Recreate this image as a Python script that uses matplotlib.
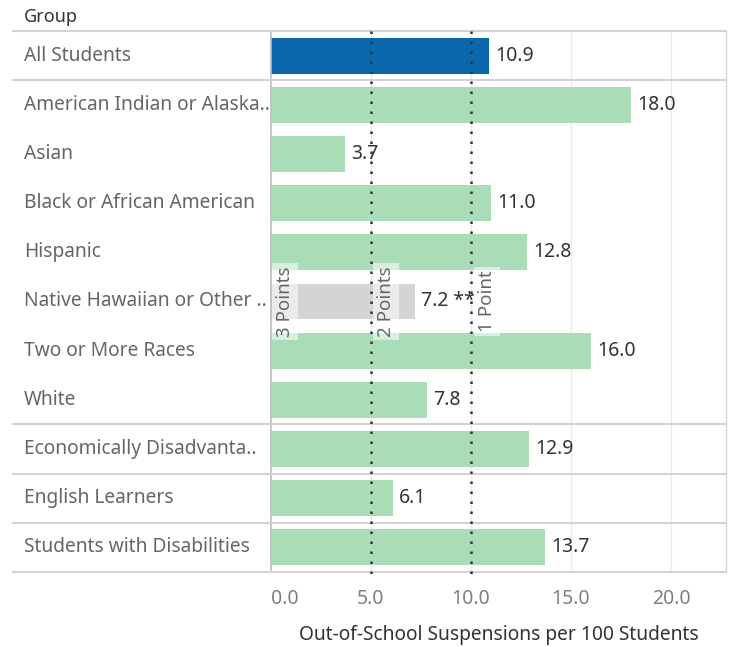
import matplotlib
matplotlib.use("Agg")
import matplotlib.pyplot as plt
from matplotlib.transforms import blended_transform_factory

groups = ["All Students", "American Indian or Alaska..", "Asian", "Black or African American",
          "Hispanic", "Native Hawaiian or Other ..", "Two or More Races", "White",
          "Economically Disadvanta..", "English Learners", "Students with Disabilities"]
values = [10.9, 18.0, 3.7, 11.0, 12.8, 7.2, 16.0, 7.8, 12.9, 6.1, 13.7]
value_labels = ["10.9", "18.0", "3.7", "11.0", "12.8", "7.2 **", "16.0", "7.8", "12.9", "6.1", "13.7"]
bar_colors = ["#0b67ac", "#a9dcb7", "#a9dcb7", "#a9dcb7", "#a9dcb7", "#d4d4d4",
              "#a9dcb7", "#a9dcb7", "#a9dcb7", "#a9dcb7", "#a9dcb7"]
ref_values = [5.0, 10.0]
ref_labels = ["3 Points", "2 Points", "1 Point"]
ref_label_x = [0.7, 5.75, 10.8]
xticks = [0, 5, 10, 15, 20]
xtick_labels = ["0.0", "5.0", "10.0", "15.0", "20.0"]
separators_after = [-0.5, 0.5, 7.5, 8.5, 9.5, 10.5]

plt.rcParams['font.family'] = ['Noto Sans', 'DejaVu Sans']

W, H = 729, 647
fig = plt.figure(figsize=(W / 100, H / 100), dpi=100)
left, right, top, bottom = 271, 726, 31, 572
ax = fig.add_axes([left / W, 1 - bottom / H, (right - left) / W, (bottom - top) / H])

y = list(range(len(groups)))
ax.barh(y, values, height=0.73, color=bar_colors, zorder=2)
ax.set_ylim(len(groups) - 0.5, -0.5)
ax.set_xlim(0, 22.75)

for yi, v, lab in zip(y, values, value_labels):
    ax.text(v + 0.3, yi, lab, va="center", ha="left", fontsize=14, color="#333333", zorder=4)

# gridlines
for xt in xticks[1:]:
    ax.axvline(xt, color="#ebebeb", lw=1, zorder=0)

ax.set_xticks(xticks)
ax.set_xticklabels(xtick_labels, fontsize=14, color="#808080")
ax.get_xticklabels()[0].set_ha("left")
ax.tick_params(axis="x", length=0, pad=12)
ax.set_yticks([])

for s in ["top", "bottom"]:
    ax.spines[s].set_visible(False)
ax.spines["left"].set_color("#bdbdbd")
ax.spines["left"].set_linewidth(1.2)
ax.spines["right"].set_color("#d6d6d6")
ax.spines["right"].set_linewidth(1)

# row labels
tr = blended_transform_factory(fig.transFigure, ax.transData)
for yi, g in zip(y, groups):
    ax.text(24 / W, yi, g, transform=tr, ha="left", va="center", fontsize=13.8, color="#666666")

# separators
for sy in separators_after:
    ax.plot([13 / W, right / W], [sy, sy], transform=tr, color="#d3d3d3", lw=1.5,
            clip_on=False, zorder=3)

# reference lines
for rv in ref_values:
    ax.plot([rv, rv], [-0.5, 10.68], color="#333333", lw=1.8, linestyle=(0, (1, 3)),
            clip_on=False, zorder=5)

for lx, lt in zip(ref_label_x, ref_labels):
    ax.text(lx, 5, lt, rotation=90, ha="center", va="center", fontsize=13.5, color="#666666",
            zorder=6, bbox=dict(facecolor="white", alpha=0.55, edgecolor="none", pad=2.5))

fig.text(24 / W, 1 - 17 / H, "Group", ha="left", va="center", fontsize=13, color="#333333")
fig.text((left + right) / 2 / W, 1 - 635 / H, "Out-of-School Suspensions per 100 Students",
         ha="center", va="center", fontsize=13.8, color="#333333")

fig.savefig("out.png", dpi=100)
